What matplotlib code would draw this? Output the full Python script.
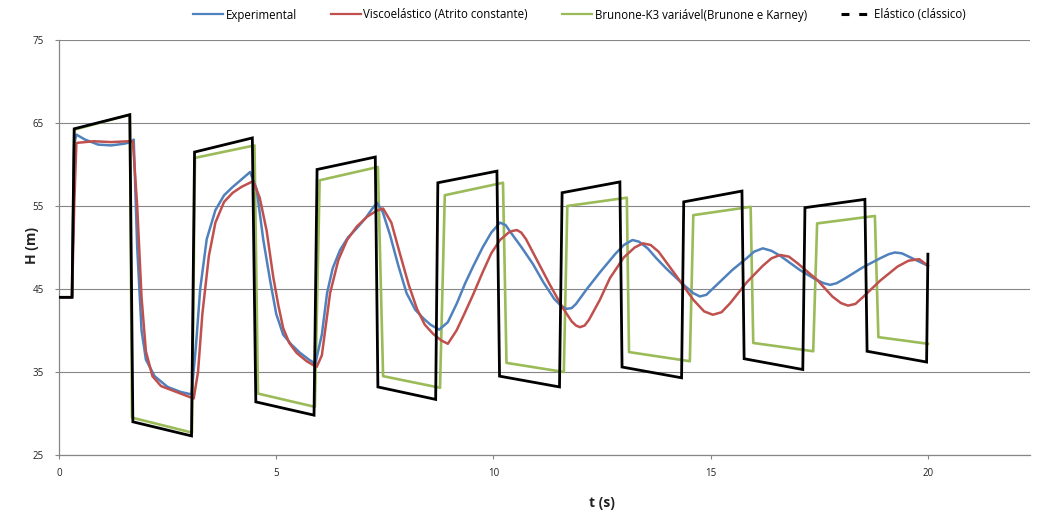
import matplotlib
matplotlib.use("Agg")
import matplotlib.pyplot as plt
from matplotlib.lines import Line2D

# ---- Data ----
exp_t = [0, 0.3, 0.35, 0.4, 0.6, 0.9, 1.2, 1.5, 1.65, 1.72, 1.8, 1.9, 2.0, 2.2, 2.5, 2.8, 3.05,
         3.15, 3.25, 3.4, 3.6, 3.8, 4.0, 4.2, 4.4, 4.55, 4.7, 4.86, 5.0, 5.16, 5.35, 5.55, 5.75, 5.9,
         6.05, 6.17, 6.3, 6.47, 6.65, 6.85, 7.05, 7.2, 7.32, 7.45, 7.62, 7.8, 8.0, 8.2, 8.38, 8.55,
         8.75, 8.95, 9.16, 9.35, 9.53, 9.75, 9.95, 10.15, 10.28, 10.4, 10.65, 10.91, 11.15, 11.4,
         11.55, 11.68, 11.8, 11.9, 12.15, 12.45, 12.8, 13.0, 13.2, 13.35, 13.55, 13.75, 13.99, 14.4,
         14.6, 14.75, 14.9, 15.1, 15.5, 15.85, 16.0, 16.2, 16.4, 16.6, 17.05, 17.4, 17.6, 17.75,
         17.9, 18.1, 18.5, 18.9, 19.1, 19.24, 19.4, 19.6, 20.0]
exp_h = [44, 44, 62.5, 63.6, 63.0, 62.4, 62.3, 62.5, 62.7, 63.0, 50, 40, 36.5, 34.5, 33.2, 32.6, 32.3,
         38, 45, 51, 54.5, 56.3, 57.3, 58.2, 59.1, 57, 51, 46, 42, 39.5, 38.3, 37.3, 36.5, 36.0,
         39.5, 44.5, 47.5, 49.7, 51.2, 52.3, 53.5, 54.6, 55.4, 54.3, 51.5, 48, 44.5, 42.5, 41.5, 40.7,
         40.1, 41.0, 43.3, 45.7, 47.7, 50, 51.8, 53.0, 52.7, 51.8, 50.0, 48.0, 45.8, 43.8,
         43.0, 42.6, 42.7, 43.2, 45.0, 47.0, 49.2, 50.3, 50.9, 50.7, 49.9, 48.7, 47.4, 45.4,
         44.5, 44.1, 44.3, 45.3, 47.3, 48.8, 49.5, 49.9, 49.6, 49.0, 47.3, 46.2, 45.7, 45.5,
         45.7, 46.3, 47.6, 48.7, 49.2, 49.4, 49.3, 48.8, 47.8]

visc_t = [0, 0.3, 0.35, 0.4, 0.8, 1.2, 1.6, 1.7, 1.8, 1.9, 2.0, 2.15, 2.35, 2.6, 2.9, 3.1, 3.2,
          3.3, 3.45, 3.6, 3.8, 4.0, 4.2, 4.47, 4.62, 4.78, 4.93, 5.05, 5.16, 5.3, 5.47, 5.7, 5.93,
          6.05, 6.24, 6.43, 6.63, 6.85, 7.09, 7.3, 7.46, 7.65, 7.85, 8.05, 8.24, 8.42, 8.61, 8.8,
          8.95, 9.15, 9.33, 9.53, 9.75, 9.95, 10.15, 10.35, 10.44, 10.54, 10.64, 10.75, 11.0, 11.3,
          11.6, 11.8, 11.9, 11.99, 12.1, 12.2, 12.45, 12.68, 13.0, 13.25, 13.44, 13.62, 13.8, 14.22,
          14.6, 14.85, 15.05, 15.25, 15.45, 15.83, 16.2, 16.4, 16.6, 16.8, 17.0, 17.45, 17.8, 18.0,
          18.16, 18.33, 18.5, 18.9, 19.3, 19.55, 19.8, 20.0]
visc_h = [44, 44, 55, 62.6, 62.8, 62.7, 62.8, 62.8, 55, 44, 37.5, 34.5, 33.3, 32.8, 32.2, 31.8, 35,
          42, 49, 53, 55.5, 56.6, 57.3, 58.0, 56, 52, 46.5, 43, 40.3, 38.5, 37.3, 36.3, 35.6,
          37, 44.5, 48.5, 50.9, 52.5, 53.7, 54.4, 54.7, 53, 49.2, 45.5, 42.6, 40.7, 39.6, 38.8,
          38.4, 40, 42.0, 44.3, 47, 49.3, 50.9, 51.8, 52.0, 52.1, 51.8, 51.0, 48.5, 45.5,
          42.7, 41.1, 40.6, 40.4, 40.6, 41.3, 43.7, 46.3, 48.8, 50.0, 50.5, 50.3, 49.5, 46.5,
          43.7, 42.3, 41.9, 42.2, 43.3, 45.8, 47.8, 48.7, 49.1, 48.9, 48.1, 46.1, 44.1, 43.3,
          43.0, 43.2, 44.0, 46.0, 47.7, 48.4, 48.6, 47.8]

brun_t = [0, 0.3, 0.35, 1.63, 1.68, 3.06, 3.13, 4.5, 4.58, 5.89, 6.0, 7.34, 7.46, 8.77, 8.88,
          10.22, 10.3, 11.62, 11.7, 13.07, 13.12, 14.52, 14.6, 15.92, 15.98, 17.36, 17.45, 18.78,
          18.86, 20.0]
brun_h = [44, 44, 64.2, 66.0, 29.5, 27.7, 60.8, 62.3, 32.4, 30.8, 58.1, 59.7, 34.5, 33.1, 56.3,
          57.8, 36.1, 35.0, 55.0, 56.0, 37.4, 36.3, 53.9, 54.9, 38.5, 37.5, 52.9, 53.8,
          39.2, 38.4]

elas_t = [0, 0.3, 0.35, 1.63, 1.7, 3.05, 3.12, 4.45, 4.53, 5.87, 5.94, 7.28, 7.34, 8.67, 8.72,
          10.08, 10.14, 11.52, 11.58, 12.91, 12.96, 14.33, 14.38, 15.72, 15.77, 17.12, 17.17,
          18.55, 18.6, 19.97, 20.0]
elas_h = [44, 44, 64.3, 66.0, 29.0, 27.3, 61.5, 63.2, 31.4, 29.8, 59.4, 60.9, 33.2, 31.7, 57.8,
          59.2, 34.5, 33.2, 56.6, 57.9, 35.6, 34.3, 55.5, 56.8, 36.6, 35.3, 54.8, 55.8,
          37.5, 36.2, 49.2]

labels = ["Experimental", "Viscoelástico (Atrito constante)",
          "Brunone-K3 variável(Brunone e Karney)", "Elástico (clássico)"]
x_ticks = [0, 5, 10, 15, 20]
y_ticks = [25, 35, 45, 55, 65, 75]

# ---- Plot ----
plt.rcParams['font.family'] = ['Open Sans', 'DejaVu Sans']
fig = plt.figure(figsize=(10.42, 5.15), dpi=100)
ax = fig.add_axes([59/1042, 60/515, (1030-59)/1042, (455-40)/515])

c_blue, c_red, c_green, c_black = "#4F81BD", "#C0504D", "#9BBB59", "#000000"
ax.plot(brun_t, brun_h, color=c_green, lw=1.9, zorder=3)
ax.plot(exp_t, exp_h, color=c_blue, lw=1.8, zorder=4)
ax.plot(visc_t, visc_h, color=c_red, lw=1.8, zorder=5)
ax.plot(elas_t, elas_h, color=c_black, lw=2.0, zorder=6, solid_joinstyle='miter')

ax.set_xlim(0, 22.35)
ax.set_ylim(25, 75)
ax.set_xticks(x_ticks)
ax.set_yticks(y_ticks)
ax.tick_params(axis='both', labelsize=7, colors='#868686', labelcolor='#222222', length=3)
ax.tick_params(axis='x', pad=6)
ax.tick_params(axis='y', pad=8)
ax.grid(axis='y', color='#868686', lw=0.8)
ax.set_axisbelow(True)
for s in ['top', 'right']:
    ax.spines[s].set_visible(False)
for s in ['left', 'bottom']:
    ax.spines[s].set_color('#868686')
    ax.spines[s].set_linewidth(0.9)

fig.text(32/1042, 1 - 245/515, "H (m)", rotation=90, ha='center', va='center',
         fontsize=10, fontweight='bold', color='#222222')
fig.text(602/1042, 1 - 503/515, "t (s)", ha='center', va='center',
         fontsize=10, fontweight='bold', color='#222222')

handles = [Line2D([], [], color=c_blue, lw=1.6),
           Line2D([], [], color=c_red, lw=1.6),
           Line2D([], [], color=c_green, lw=1.6),
           Line2D([], [], color=c_black, lw=2.2, dashes=(2.6, 3.2))]
fig.legend(handles, labels, loc='center', bbox_to_anchor=(579/1042, 1 - 15/515), ncol=4,
           frameon=False, fontsize=8.3, handlelength=2.6, columnspacing=2.95,
           handletextpad=0.25, borderpad=0, borderaxespad=0)

fig.savefig("out.png", dpi=100)
